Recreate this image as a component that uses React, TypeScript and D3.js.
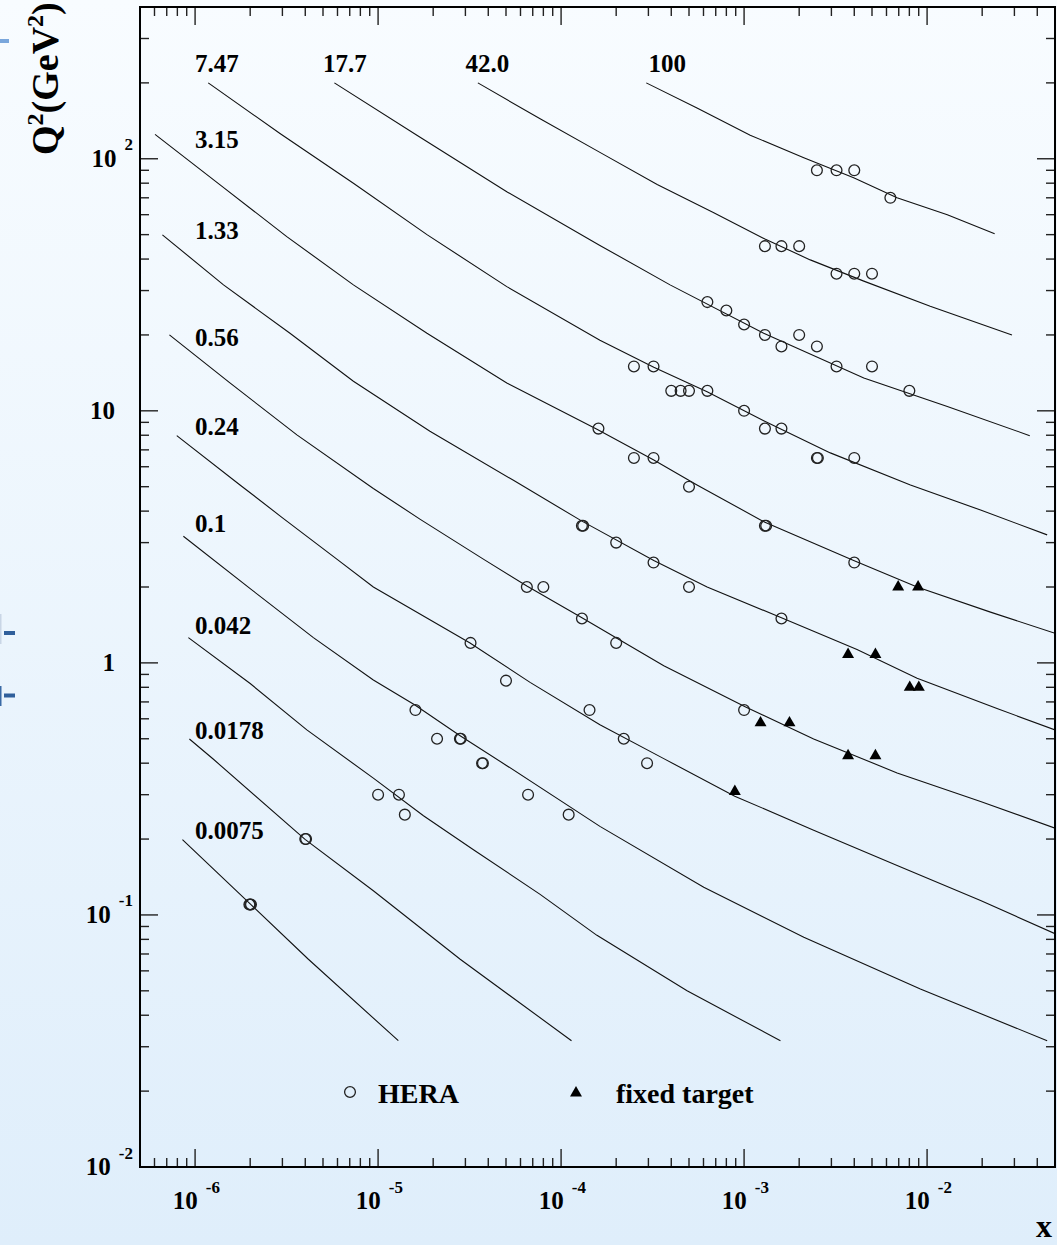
import * as d3 from 'd3';

const W = 1057;
const H = 1245;

// curve labels, with the (x, Q2) where each label sits
const curveNames = ['100', '42.0', '17.7', '7.47', '3.15', '1.33', '0.56', '0.24', '0.1', '0.042', '0.0178', '0.0075'];
const labelX = [3e-4, 3e-5, 5e-6, 1e-6, 1e-6, 1e-6, 1e-6, 1e-6, 1e-6, 1e-6, 1e-6, 1e-6];
const labelQ2 = [220, 220, 220, 220, 110, 48, 18, 8, 3.3, 1.3, 0.5, 0.2];

const curve100: [number, number][] = [[2.92e-4, 200], [5.53e-4, 159], [1.08e-3, 124], [2.12e-3, 101], [3.97e-3, 84], [6.85e-3, 70], [1.29e-2, 60], [2.34e-2, 50.4]];
const curve42: [number, number][] = [[3.51e-5, 200], [7.68e-5, 144], [1.63e-4, 106], [3.35e-4, 79], [6.83e-4, 61], [1.3e-3, 48], [2.3e-3, 39.7], [4.51e-3, 32.7], [1.04e-2, 26], [2.91e-2, 20]];
const curve17: [number, number][] = [[5.77e-6, 200], [1.63e-5, 124], [5.05e-5, 74], [1.63e-4, 45.3], [3.94e-4, 31.6], [1.28e-3, 20.3], [4.51e-3, 13.5], [1.29e-2, 10.4], [3.64e-2, 7.97]];
const curve7: [number, number][] = [[1.18e-6, 200], [2.91e-6, 126], [7.33e-6, 80], [1.85e-5, 50], [5.05e-5, 31.1], [1.63e-4, 19.05], [3.21e-4, 14.9], [6.28e-4, 11.9], [1.28e-3, 9.14], [2.96e-3, 6.81], [8.11e-3, 5.08], [1.96e-2, 4.04], [4.53e-2, 3.22]];
const curve3: [number, number][] = [[6.04e-7, 125], [1.37e-6, 78.8], [3.17e-6, 49.1], [7.33e-6, 31.6], [1.85e-5, 20.3], [5.05e-5, 12.9], [1.57e-4, 8.45], [3.21e-4, 6.38], [5.53e-4, 5.08], [1.3e-3, 3.61], [3.97e-3, 2.55], [8.82e-3, 2.0], [2.22e-2, 1.59], [5e-2, 1.31]];
const curve1: [number, number][] = [[6.63e-7, 49.9], [1.43e-6, 31.6], [3.3e-6, 20.3], [7.33e-6, 13.1], [1.92e-5, 8.3], [5.49e-5, 5.3], [1.3e-4, 3.65], [3.21e-4, 2.55], [6.28e-4, 2.0], [1.6e-3, 1.51], [4.14e-3, 1.13], [8.82e-3, 0.869], [2.41e-2, 0.659], [5e-2, 0.542]];
const curve056: [number, number][] = [[7.24e-7, 20], [1.55e-6, 12.9], [3.6e-6, 8.03], [9.42e-6, 4.92], [1.7e-5, 3.71], [3.76e-5, 2.58], [6.5e-5, 2.02], [1.3e-4, 1.51], [3.64e-4, 0.975], [1.02e-3, 0.669], [2.4e-3, 0.499], [6.86e-3, 0.366], [1.96e-2, 0.282], [5e-2, 0.221]];
const curve024: [number, number][] = [[7.94e-7, 7.97], [1.76e-6, 5.08], [2.98e-6, 3.78], [5.95e-6, 2.58], [9.42e-6, 2.0], [3.18e-5, 1.2], [6.77e-5, 0.837], [1.63e-4, 0.568], [3.64e-4, 0.417], [8.89e-4, 0.296], [2.4e-3, 0.217], [6.86e-3, 0.157], [1.96e-2, 0.114], [5e-2, 0.0843]];
const curve01: [number, number][] = [[8.63e-7, 3.18], [2.0e-6, 1.97], [4.43e-6, 1.26], [9.42e-6, 0.855], [1.59e-5, 0.681], [2.78e-5, 0.516], [5.05e-5, 0.391], [1.63e-4, 0.2246], [6.02e-4, 0.1288], [2.12e-3, 0.0816], [9.19e-3, 0.0508], [4.53e-2, 0.0317]];
const curve0042: [number, number][] = [[9.19e-7, 1.26], [2.0e-6, 0.828], [4.08e-6, 0.542], [9.42e-6, 0.349], [1.77e-5, 0.2475], [3.32e-5, 0.1815], [7.68e-5, 0.1207], [1.57e-4, 0.083], [4.88e-4, 0.05], [1.58e-3, 0.0317]];
const curve00178: [number, number][] = [[9.31e-7, 0.499], [1.26e-6, 0.4145], [3.99e-6, 0.1995], [9.42e-6, 0.1247], [2.81e-5, 0.0667], [1.14e-4, 0.0317]];
const curve00075: [number, number][] = [[8.53e-7, 0.1988], [2.0e-6, 0.1106], [4.16e-6, 0.0667], [1.29e-5, 0.0317]];

const curves = [curve100, curve42, curve17, curve7, curve3, curve1, curve056, curve024, curve01, curve0042, curve00178, curve00075];

// HERA measurements [x, Q2]; repeated entries are overlapping points
const heraPoints: [number, number][] = [
  [2.5e-3, 90], [3.2e-3, 90], [4.0e-3, 90], [6.3e-3, 70],
  [1.3e-3, 45], [1.6e-3, 45], [2.0e-3, 45], [3.2e-3, 35], [4.0e-3, 35], [5.0e-3, 35],
  [6.3e-4, 27], [8.0e-4, 25], [1.0e-3, 22], [1.3e-3, 20], [1.6e-3, 18], [2.0e-3, 20], [2.5e-3, 18], [3.2e-3, 15], [5.0e-3, 15], [8.0e-3, 12],
  [2.5e-4, 15], [3.2e-4, 15], [4.0e-4, 12], [4.5e-4, 12], [5.0e-4, 12], [6.3e-4, 12], [1.0e-3, 10], [1.3e-3, 8.5], [1.6e-3, 8.5], [2.5e-3, 6.5], [2.53e-3, 6.5], [4.0e-3, 6.5],
  [1.6e-4, 8.5], [2.5e-4, 6.5], [3.2e-4, 6.5], [5.0e-4, 5], [1.3e-3, 3.5], [1.32e-3, 3.5], [4.0e-3, 2.5],
  [1.3e-4, 3.5], [1.32e-4, 3.5], [2.0e-4, 3.0], [3.2e-4, 2.5], [5.0e-4, 2.0], [1.6e-3, 1.5],
  [6.5e-5, 2.0], [8.0e-5, 2.0], [1.3e-4, 1.5], [2.0e-4, 1.2], [1.0e-3, 0.65], [2.2e-4, 0.5], [2.95e-4, 0.4],
  [3.2e-5, 1.2], [5.0e-5, 0.85], [1.43e-4, 0.65],
  [1.6e-5, 0.65], [2.1e-5, 0.5], [2.8e-5, 0.5], [2.83e-5, 0.5], [3.7e-5, 0.4], [3.74e-5, 0.4], [6.6e-5, 0.3], [1.1e-4, 0.25],
  [1.0e-5, 0.3], [1.3e-5, 0.3], [1.4e-5, 0.25],
  [4.0e-6, 0.2], [4.04e-6, 0.2],
  [1.98e-6, 0.11], [2.0e-6, 0.11], [2.02e-6, 0.11],
];

// fixed target measurements [x, Q2]
const fixedPoints: [number, number][] = [
  [6.95e-3, 2.0], [8.93e-3, 2.0], [3.7e-3, 1.08], [5.22e-3, 1.08], [8.04e-3, 0.8], [9.01e-3, 0.8],
  [1.23e-3, 0.578], [1.77e-3, 0.578], [3.7e-3, 0.428], [5.22e-3, 0.428], [8.9e-4, 0.309],
];

const xTickExps = [-6, -5, -4, -3, -2];
const yTickLabels = [
  { v: 0.01, base: '10', exp: '-2' },
  { v: 0.1, base: '10', exp: '-1' },
  { v: 1, base: '1', exp: '' },
  { v: 10, base: '10', exp: '' },
  { v: 100, base: '10', exp: '2' },
];

const FONT = "'Liberation Serif', 'Times New Roman', serif";

const left = 140, right = 1055, top = 7, bottom = 1167;

function logTicks(lo: number, hi: number) {
  const out: { v: number; major: boolean }[] = [];
  for (let e = -8; e <= 3; e++) {
    for (let m = 1; m <= 9; m++) {
      const v = m * Math.pow(10, e);
      if (v > lo * 1.0001 && v < hi * 0.9999) out.push({ v, major: m === 1 });
    }
  }
  return out;
}

export default function App() {
  const x = d3.scaleLog().domain([5e-7, 0.05]).range([left, right]);
  const y = d3.scaleLog().domain([0.01, 400]).range([bottom, top]);
  const line = d3.line<[number, number]>().x(d => x(d[0])).y(d => y(d[1]));
  const tri = d3.symbol(d3.symbolTriangle, 62)();

  const xt = logTicks(5e-7, 0.05);
  const yt = logTicks(0.01, 400);

  return (
    <>
      <style>{`body{margin:0}`}</style>
      <svg width={W} height={H} style={{ display: 'block' }} fontFamily={FONT} fontWeight="bold">
        <defs>
          <linearGradient id="bg" x1="0" y1="0" x2="0" y2="1">
            <stop offset="0%" stopColor="#f8fcff" />
            <stop offset="100%" stopColor="#dfeefb" />
          </linearGradient>
          <clipPath id="plot">
            <rect x={left} y={top} width={right - left} height={bottom - top} />
          </clipPath>
        </defs>
        <rect x={0} y={0} width={W} height={H} fill="url(#bg)" />

        {/* bits of the slide behind */}
        <rect x={0} y={39} width={9} height={4} fill="#7aa7dc" />
        <rect x={0} y={614} width={1.5} height={30} fill="#c9d6e6" />
        <rect x={4} y={631} width={11} height={4} fill="#2f5f9b" />
        <rect x={0} y={686} width={1.5} height={20} fill="#3a6aa5" />
        <rect x={4} y={693.5} width={11} height={4} fill="#2f5f9b" />

        {/* curves */}
        <g clipPath="url(#plot)" fill="none" stroke="#111" strokeWidth={1.1}>
          {curves.map((c, i) => <path key={i} d={line(c) ?? ''} />)}
        </g>

        {/* curve labels */}
        <g fontSize={25} fill="#000">
          {curveNames.map((n, i) => (
            <text key={n} x={x(labelX[i])} y={y(labelQ2[i])}>{n}</text>
          ))}
        </g>

        {/* data */}
        <g fill="none" stroke="#222" strokeWidth={1.3}>
          {heraPoints.map((d, i) => <circle key={i} cx={x(d[0])} cy={y(d[1])} r={5.4} />)}
        </g>
        <g fill="#000">
          {fixedPoints.map((d, i) => <path key={i} d={tri ?? ''} transform={`translate(${x(d[0])},${y(d[1])})`} />)}
        </g>

        {/* ticks */}
        <g stroke="#222" strokeWidth={1.4}>
          {xt.map((t, i) => {
            const len = t.major ? 18 : 9;
            const px = x(t.v);
            return (
              <g key={i}>
                <line x1={px} x2={px} y1={bottom} y2={bottom - len} />
                <line x1={px} x2={px} y1={top} y2={top + len} />
              </g>
            );
          })}
          {yt.map((t, i) => {
            const len = t.major ? 18 : 9;
            const py = y(t.v);
            return (
              <g key={i}>
                <line x1={left} x2={left + len} y1={py} y2={py} />
                <line x1={right} x2={right - len} y1={py} y2={py} />
              </g>
            );
          })}
        </g>
        <rect x={left} y={top} width={right - left} height={bottom - top} fill="none" stroke="#000" strokeWidth={2} />

        {/* x tick labels */}
        <g fontSize={25} fill="#000">
          {xTickExps.map(e => (
            <text key={e} x={x(Math.pow(10, e)) - 22.3} y={1209}>
              10<tspan dx={8} dy={-16.5} fontSize={17}>{String(e)}</tspan>
            </text>
          ))}
        </g>

        {/* y tick labels */}
        <g fontSize={25} fill="#000">
          {yTickLabels.map(t => t.exp ? (
            <text key={t.v} x={133} y={y(t.v) + 8} textAnchor="end">
              {t.base}<tspan dx={8} dy={-16.5} fontSize={17}>{t.exp}</tspan>
            </text>
          ) : (
            <text key={t.v} x={115} y={y(t.v) + 8} textAnchor="end">{t.base}</text>
          ))}
        </g>

        {/* axis titles */}
        <text x={1036} y={1237} fontSize={32}>x</text>
        <text transform="translate(58,155) rotate(-90)" fontSize={38}>
          Q<tspan dy={-15} fontSize={24}>2</tspan><tspan dy={15}>(GeV</tspan><tspan dy={-15} fontSize={24}>2</tspan><tspan dy={15}>)</tspan>
        </text>

        {/* legend */}
        <circle cx={350} cy={1092} r={5.4} fill="none" stroke="#222" strokeWidth={1.3} />
        <text x={378} y={1103} fontSize={28}>HERA</text>
        <path d={tri ?? ''} transform="translate(576,1093)" fill="#000" />
        <text x={616} y={1103} fontSize={28}>fixed target</text>
      </svg>
    </>
  );
}
